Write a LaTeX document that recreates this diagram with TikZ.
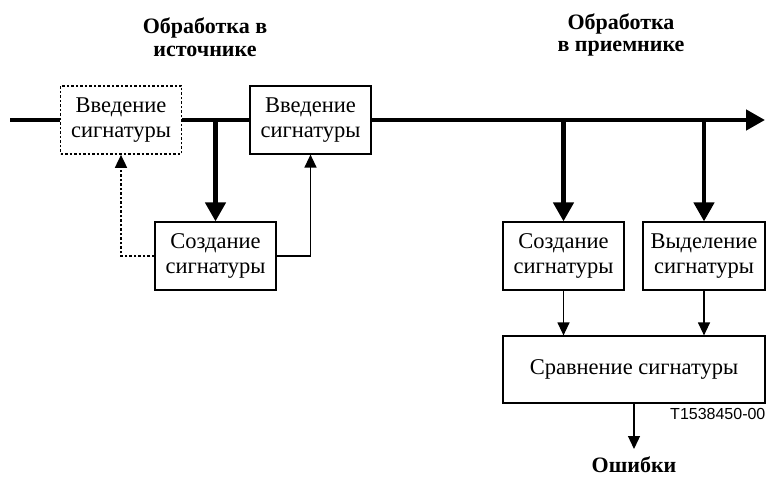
\documentclass[tikz,border=0pt]{standalone}
\usepackage{fontspec}
\setmainfont{Liberation Serif}
\newfontfamily\tagfont{Liberation Sans}
\usetikzlibrary{arrows.meta}

\begin{document}
\begin{tikzpicture}[x=1pt, y=-1pt,
      block/.style={draw, line width=1.2pt, fill=white, minimum width=#1,
                    minimum height=68pt, inner sep=0pt, align=center,
                    font=\fontsize{22.5}{24.5}\selectfont},
      block/.default=121pt,
      heading/.style={align=center, font=\fontsize{22}{22.5}\selectfont\bfseries},
      bus/.style={line width=4.5pt},
      busarr/.style={-{Triangle[length=19pt, width=20pt]}, line width=4.5pt},
      arr/.style={-{Triangle[length=13pt, width=12pt]}, line width=1.3pt}
  ]
    \useasboundingbox (0,0) rectangle (767,478);

    % headings
    \node[heading] (hsrc) at (205,37) {Обработка в\\источнике};
    \node[heading] (hdst) at (621,35) {Обработка\\в приемнике};

    % source side
    \node[block, dash pattern=on 2.5pt off 2pt, line width=1.7pt] (insA) at (121,120)
      {Введение\\сигнатуры};
    \node[block] (insB) at (310.5,120) {Введение\\сигнатуры};
    \node[block] (genA) at (215.5,256) {Создание\\сигнатуры};

    % receiver side
    \node[block] (genB) at (563.5,256) {Создание\\сигнатуры};
    \node[block=122pt] (ext) at (704,256) {Выделение\\сигнатуры};
    \node[block=262pt, minimum height=67pt] (cmp) at (634,369.5)
      {Сравнение сигнатуры};
    \node[anchor=north east, inner sep=0pt, font=\tagfont\fontsize{16}{18}\selectfont]
      (tag) at ([yshift=-5pt]cmp.south east) {T1538450-00};
    \node[heading, anchor=north, inner sep=0pt] (err) at (634,457) {Ошибки};

    % main signal path
    \coordinate (src) at (10,120);
    \coordinate (dst) at (765,120);
    \draw[bus] (src) -- (insA.west);
    \draw[bus] (insA.east) -- (insB.west);
    \draw[busarr] (insB.east) -- (dst);

    % branches
    \draw[busarr] (genA.north |- src) -- (genA.north);
    \draw[busarr] (genB.north |- src) -- (genB.north);
    \draw[busarr] (ext.north |- src) -- (ext.north);

    % feedback to insertion
    \draw[arr, dash pattern=on 2.5pt off 2pt, line width=1.7pt] (genA.west) -| (insA.south);
    \draw[arr] (genA.east) -| (insB.south);

    % comparison
    \draw[arr] (genB.south) -- (genB.south |- cmp.north);
    \draw[arr] (ext.south) -- (ext.south |- cmp.north);
    \draw[arr, shorten >=8pt] (cmp.south) -- (err.north);
  \end{tikzpicture}
\end{document}
